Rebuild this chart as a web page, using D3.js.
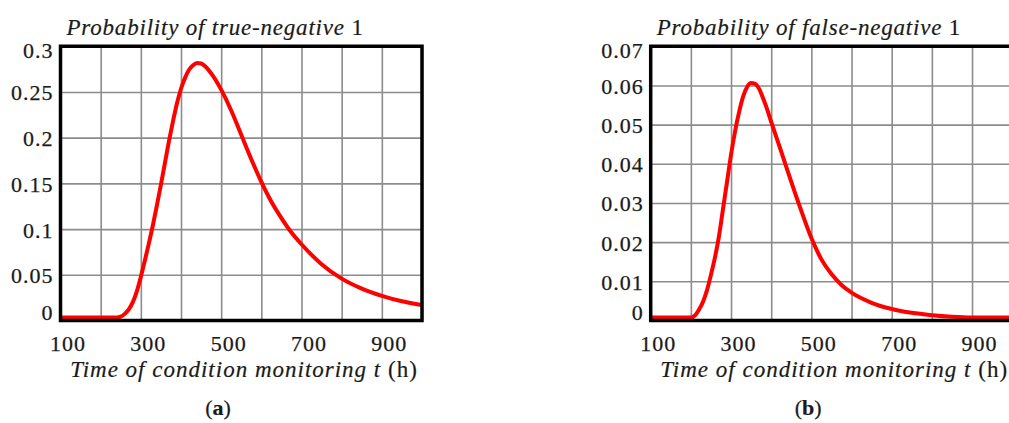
<!DOCTYPE html>
<html>
<head>
<meta charset="utf-8">
<script src="https://cdn.jsdelivr.net/npm/d3@7"></script>
<style>
  body { margin: 0; background: #fff; }
  svg { display: block; }
  .grid line { stroke: #8c8c8c; stroke-width: 1.6; }
  .grid path { display: none; }
  .lbl { font-family: "Liberation Serif", "Times New Roman", serif; font-size: 22px; fill: #1a1a1a; letter-spacing: 1px; stroke: #1a1a1a; stroke-width: 0.25px; }
  .ttl { font-family: "Liberation Serif", "Times New Roman", serif; font-size: 23px; fill: #1a1a1a; stroke: #1a1a1a; stroke-width: 0.2px; }
</style>
</head>
<body>
<div id="chart"></div>
<script>
// time of condition monitoring (h) and probabilities
const tTrueNeg = [100, 200, 240, 250, 260, 270, 280, 290, 300, 310, 320, 330, 340, 350, 360, 370, 380, 390, 400, 410, 420, 430, 440, 450, 460, 470, 480, 490, 500, 525, 550, 575, 600, 625, 650, 675, 700, 750, 800, 850, 900, 950, 1000];
const pTrueNeg = [0, 0, 0, 0.001, 0.004, 0.009, 0.017, 0.029, 0.045, 0.063, 0.082, 0.102, 0.124, 0.147, 0.171, 0.195, 0.217, 0.237, 0.253, 0.265, 0.274, 0.279, 0.2815, 0.281, 0.278, 0.273, 0.267, 0.260, 0.252, 0.229, 0.202, 0.175, 0.150, 0.128, 0.110, 0.094, 0.081, 0.059, 0.043, 0.032, 0.024, 0.018, 0.0138];

const tFalseNeg = [100, 200, 210, 220, 230, 240, 250, 260, 270, 280, 290, 300, 310, 320, 330, 340, 350, 360, 370, 380, 390, 400, 425, 450, 475, 500, 525, 550, 575, 600, 650, 700, 750, 800, 850, 900, 1000];
const pFalseNeg = [0, 0, 0.0005, 0.002, 0.004, 0.007, 0.011, 0.0155, 0.021, 0.028, 0.035, 0.042, 0.048, 0.053, 0.057, 0.0595, 0.0605, 0.0603, 0.059, 0.0565, 0.0537, 0.0505, 0.0428, 0.035, 0.0275, 0.0205, 0.0150, 0.0112, 0.0084, 0.0064, 0.0038, 0.0022, 0.0012, 0.0006, 0.0002, 0, 0];

const xTicks = [100, 300, 500, 700, 900];
const yTicksA = [0, 0.05, 0.1, 0.15, 0.2, 0.25, 0.3];
const yTicksB = [0, 0.01, 0.02, 0.03, 0.04, 0.05, 0.06, 0.07];

const W = 1009, H = 423;
const svg = d3.select('#chart').append('svg')
    .attr('width', W)
    .attr('height', H);

drawPanel({
    left: 60.5, t: tTrueNeg, p: pTrueNeg, yTicks: yTicksA, ymax: 0.3,
    title: 'Probability of true-negative', tag: 'a'
});
drawPanel({
    left: 650.7, t: tFalseNeg, p: pFalseNeg, yTicks: yTicksB, ymax: 0.07,
    title: 'Probability of false-negative', tag: 'b'
});

function drawPanel(o) {
    const pw = 361.5,
    top = 46.25,
    bottom = 320.5;

    const g = svg.append('g');

    //scales
    const x = d3.scaleLinear().domain([100, 1000]).range([o.left, o.left + pw]);
    const yGrid = d3.scaleLinear().domain([0, o.ymax]).range([bottom, top]);
    // the trace sits a little above the frame's bottom edge
    const y = d3.scaleLinear().domain([0, o.ymax]).range([bottom - 3, top]);

    //grid
    g.append('g').attr('class', 'grid')
    .attr('transform', 'translate(0,' + bottom + ')')
    .call(d3.axisBottom(x).ticks(9).tickSize(-(bottom - top)).tickFormat(''));
    g.append('g').attr('class', 'grid')
    .attr('transform', 'translate(' + o.left + ',0)')
    .call(d3.axisLeft(yGrid).tickValues(o.yTicks).tickSize(-pw).tickFormat(''));

    // trace
    const pts = o.t.map((t, i) => ({ t: t, p: o.p[i] }));
    g.append('path')
    .datum(pts)
    .attr('fill', 'none')
    .attr('stroke', '#ff0000')
    .attr('stroke-width', 4)
    .attr('stroke-linejoin', 'round')
    .attr('d', d3.line()
        .curve(d3.curveMonotoneX)
        .x(d => x(d.t))
        .y(d => y(d.p))
    );

    // frame
    g.append('rect')
    .attr('x', o.left).attr('y', top)
    .attr('width', pw).attr('height', bottom - top)
    .attr('fill', 'none')
    .attr('stroke', '#000')
    .attr('stroke-width', 3.5);

    // y labels (end ones pushed inside the frame)
    g.selectAll('.ylbl').data(o.yTicks).enter().append('text')
    .attr('class', 'lbl')
    .attr('x', o.left - 7)
    .attr('y', d => Math.min(Math.max(yGrid(d) + 1, top + 4.5), bottom - 8))
    .attr('text-anchor', 'end')
    .attr('dominant-baseline', 'central')
    .text(d => d3.format('~g')(d));

    // x labels
    g.selectAll('.xlbl').data(xTicks).enter().append('text')
    .attr('class', 'lbl')
    .attr('x', d => x(d) + 7.5)
    .attr('y', 350.5)
    .attr('text-anchor', 'middle')
    .text(d => d);

    // title
    const tt = g.append('text').attr('class', 'ttl')
    .attr('x', o.left + 6).attr('y', 35)
    .style('letter-spacing', '0.8px');
    tt.append('tspan').style('font-style', 'italic').text(o.title + ' ');
    tt.append('tspan').text('1');

    // x axis title
    const xt = g.append('text').attr('class', 'ttl')
    .attr('x', o.left + 183.5).attr('y', 376.5)
    .attr('text-anchor', 'middle')
    .style('letter-spacing', '1px');
    xt.append('tspan').style('font-style', 'italic').text('Time of condition monitoring t');
    xt.append('tspan').text(' (h)');

    // panel tag
    const tg = g.append('text').attr('class', 'ttl')
    .attr('x', o.left + 157.5).attr('y', 415)
    .attr('text-anchor', 'middle')
    .style('font-size', '22px');
    tg.append('tspan').text('(');
    tg.append('tspan').style('font-weight', 'bold').text(o.tag);
    tg.append('tspan').text(')');
}
</script>
</body>
</html>
